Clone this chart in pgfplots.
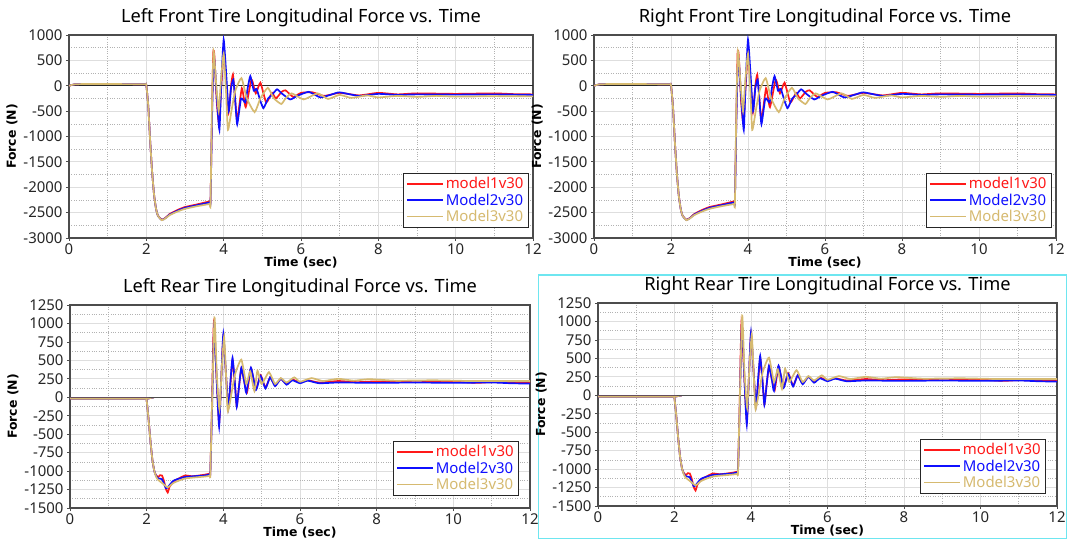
\documentclass[border=0pt]{standalone}
\usepackage{pgfplots}
\pgfplotsset{compat=1.18}
\usepackage{pgfplotstable}
\usepackage{fontspec}
\setmainfont{Noto Sans}
\newfontfamily\lblfont{DejaVu Sans}
\definecolor{mred}{RGB}{255,25,25}
\definecolor{mblue}{RGB}{15,15,255}
\definecolor{mtan}{RGB}{214,186,112}
\definecolor{cyanb}{RGB}{110,230,240}

\pgfplotstableread{
t v
0 0
0.15 28
0.5 35
1.5 32
1.9 30
1.98 28
2.0 15
2.05 -400
2.1 -1100
2.15 -1700
2.2 -2150
2.25 -2420
2.3 -2560
2.4 -2640
2.5 -2600
2.6 -2530
2.8 -2450
3.0 -2390
3.3 -2340
3.6 -2285
3.64 -2275
3.66 -2260
3.70 -500
3.73 650
3.76 600
3.82 -300
3.88 -750
3.94 0
4.0 650
4.06 100
4.13 -520
4.19 0
4.24 220
4.29 -200
4.35 -680
4.47 -50
4.57 -420
4.72 120
4.83 -150
4.95 60
5.1 -330
5.25 -140
5.35 -250
5.5 -120
5.6 -90
5.8 -220
6.0 -140
6.3 -130
6.6 -200
7.0 -140
7.5 -190
8.0 -140
8.5 -170
9.0 -150
10.0 -160
11.0 -150
11.5 -165
12.0 -170
}\FrontRed

\pgfplotstableread{
t v
0 0
0.15 28
0.5 35
1.5 32
1.9 30
1.98 28
2.0 15
2.05 -400
2.1 -1100
2.15 -1700
2.2 -2150
2.25 -2420
2.3 -2560
2.4 -2645
2.5 -2605
2.6 -2540
2.8 -2465
3.0 -2405
3.3 -2355
3.6 -2305
3.64 -2300
3.66 -2290
3.70 -600
3.73 300
3.76 520
3.82 -200
3.89 -870
3.94 100
4.0 910
4.06 300
4.13 -500
4.19 -50
4.25 120
4.3 -300
4.35 -760
4.45 -250
4.56 -330
4.62 -50
4.69 190
4.78 -100
4.85 -60
4.95 -300
5.03 -440
5.15 -250
5.25 -180
5.38 -70
5.5 -150
5.72 -270
5.9 -200
6.2 -120
6.5 -230
6.8 -170
7.0 -130
7.5 -200
8.0 -160
8.5 -180
9.0 -170
10 -175
11 -170
12 -180
}\FrontBlue

\pgfplotstableread{
t v
0 0
0.15 28
0.5 35
1.5 32
1.9 30
1.98 28
2.0 15
2.05 -400
2.1 -1100
2.15 -1700
2.2 -2150
2.25 -2420
2.3 -2560
2.4 -2650
2.5 -2610
2.6 -2550
2.8 -2480
3.0 -2425
3.3 -2375
3.6 -2335
3.64 -2330
3.66 -2320
3.70 -300
3.74 680
3.80 100
3.87 -500
3.93 100
4.0 630
4.06 -100
4.11 -870
4.2 -500
4.3 -100
4.46 150
4.6 -250
4.8 -520
4.95 -250
5.14 -40
5.3 -250
5.49 -360
5.6 -250
5.76 -150
6.07 -270
6.43 -150
6.7 -260
7.0 -180
7.3 -240
7.7 -190
8.0 -230
8.5 -200
9.0 -220
9.5 -200
10 -215
11 -205
12 -210
}\FrontTan

\pgfplotstableread{
t v
0 -10
0.1 -20
1.9 -20
1.98 -22
2.0 -40
2.05 -300
2.1 -600
2.15 -850
2.2 -1000
2.25 -1060
2.3 -1080
2.35 -1055
2.4 -1060
2.45 -1130
2.5 -1240
2.55 -1290
2.6 -1210
2.7 -1140
2.8 -1110
3.0 -1060
3.2 -1070
3.5 -1050
3.64 -1035
3.66 -1020
3.7 -200
3.75 990
3.82 300
3.89 -350
3.95 300
4.0 820
4.07 300
4.13 -150
4.19 200
4.24 500
4.3 200
4.35 -120
4.41 150
4.47 390
4.55 200
4.62 70
4.72 390
4.85 110
4.97 300
5.1 130
5.22 270
5.35 160
5.5 250
5.65 180
5.8 240
6.0 200
6.2 230
6.5 200
7 220
7.5 205
8 215
9 205
10 210
10.6 195
11 205
12 200
}\RearRed

\pgfplotstableread{
t v
0 -10
0.1 -20
1.9 -20
1.98 -22
2.0 -40
2.05 -300
2.1 -600
2.15 -850
2.2 -1000
2.25 -1070
2.3 -1100
2.4 -1110
2.5 -1230
2.55 -1220
2.7 -1130
3.0 -1080
3.5 -1060
3.64 -1045
3.66 -1030
3.7 -300
3.76 950
3.83 200
3.89 -400
3.95 300
4.0 855
4.07 300
4.13 -150
4.19 250
4.24 535
4.3 200
4.35 -130
4.41 150
4.47 400
4.55 200
4.6 60
4.72 400
4.85 100
4.97 290
5.1 120
5.22 270
5.35 150
5.5 250
5.65 170
5.8 230
6.0 190
6.2 225
6.5 190
7 200
8 195
9 200
10 195
11 200
11.5 190
12 185
}\RearBlue

\pgfplotstableread{
t v
0 -10
0.1 -20
1.9 -20
1.98 -22
2.0 -40
2.05 -300
2.1 -600
2.15 -850
2.2 -1000
2.25 -1080
2.3 -1120
2.4 -1160
2.55 -1220
2.7 -1160
3.0 -1100
3.5 -1075
3.64 -1065
3.66 -1050
3.7 -200
3.77 1080
3.83 300
3.9 -170
3.96 400
4.02 820
4.07 300
4.12 -190
4.3 300
4.47 510
4.6 180
4.7 350
4.81 85
4.89 360
5.0 180
5.19 340
5.35 180
5.5 260
5.65 200
5.85 270
6.0 210
6.3 260
6.6 220
7.0 250
7.4 225
7.8 245
8.5 225
9.5 230
10.5 220
12 220
}\RearTan

\pgfplotsset{
  tireax/.style={
    scale only axis, anchor=south west,
    xmin=0, xmax=12, xtick={0,2,...,12}, minor x tick num=1,
    grid=both,
    major grid style={black!13, line width=1pt},
    minor grid style={black!30, dotted, line width=0.6pt},
    axis line style={black!70, line width=1.1pt},
    tick align=outside, major tick length=3bp, minor tick length=0pt,
    tick style={black!70, line width=0.8pt},
    xtick pos=bottom, ytick pos=left,
    /pgf/number format/assume math mode=true,
    /pgf/number format/1000 sep={},
    ticklabel style={font=\fontsize{15}{15}\selectfont, text=black!85},
    xticklabel style={yshift=1bp},
    title style={font=\fontsize{18.3}{19}\selectfont, yshift=-1bp},
    xlabel style={font=\lblfont\bfseries\fontsize{12.5}{13}\selectfont, yshift=4bp},
    ylabel style={font=\lblfont\bfseries\fontsize{12.5}{13}\selectfont, yshift=-1bp},
    xlabel={Time (sec)}, ylabel={Force (N)},
    legend cell align=left,
    legend style={draw=black!85, line width=0.8pt, font=\fontsize{15}{17}\selectfont,
      row sep=-0.5bp, inner sep=2.5bp},
    legend image code/.code={\draw[#1, line width=1.7pt] (0bp,0bp) -- (36bp,0bp);},
  },
  frontax/.style={tireax, ymin=-3000, ymax=1000, ytick={-3000,-2500,...,1000}, minor y tick num=1,
    legend style={at={(0.99,0.05)}, anchor=south east}},
  rearax/.style={tireax, ymin=-1500, ymax=1250, ytick={-1500,-1250,...,1250}, minor y tick num=1,
    legend style={at={(0.975,0.06)}, anchor=south east}},
  sr/.style={mred, line width=1.7pt, smooth, tension=0.3},
  sb/.style={mblue, line width=1.7pt, smooth, tension=0.3},
  st/.style={mtan, line width=1.7pt, smooth, tension=0.3},
}

\begin{document}
\begin{tikzpicture}
\useasboundingbox (0,0) rectangle (1070bp,539bp);
\draw[cyanb, line width=1.2pt] (538.5bp,0bp) rectangle (1066.5bp,264bp);

\begin{axis}[frontax, at={(69bp,301bp)}, width=464bp, height=203bp,
  title={Left Front Tire Longitudinal Force vs. Time}]
\addplot[black!85, line width=1.2pt, forget plot] coordinates {(0,0) (12,0)};
\addplot[sr] table[x=t,y=v] {\FrontRed};
\addplot[sb] table[x=t,y=v] {\FrontBlue};
\addplot[st] table[x=t,y=v] {\FrontTan};
\legend{\textcolor{mred}{model1v30},\textcolor{mblue}{Model2v30},\textcolor{mtan}{Model3v30}}
\end{axis}

\begin{axis}[frontax, at={(594bp,301bp)}, width=462bp, height=203bp,
  title={Right Front Tire Longitudinal Force vs. Time}]
\addplot[black!85, line width=1.2pt, forget plot] coordinates {(0,0) (12,0)};
\addplot[sr] table[x=t,y=v] {\FrontRed};
\addplot[sb] table[x=t,y=v] {\FrontBlue};
\addplot[st] table[x=t,y=v] {\FrontTan};
\legend{\textcolor{mred}{model1v30},\textcolor{mblue}{Model2v30},\textcolor{mtan}{Model3v30}}
\end{axis}

\begin{axis}[rearax, at={(70bp,31bp)}, width=460bp, height=203bp,
  title={Left Rear Tire Longitudinal Force vs. Time}]
\addplot[black!70, line width=1.4pt, forget plot] coordinates {(0,0) (12,0)};
\addplot[sr] table[x=t,y=v] {\RearRed};
\addplot[sb] table[x=t,y=v] {\RearBlue};
\addplot[st] table[x=t,y=v] {\RearTan};
\legend{\textcolor{mred}{model1v30},\textcolor{mblue}{Model2v30},\textcolor{mtan}{Model3v30}}
\end{axis}

\begin{axis}[rearax, at={(598bp,33bp)}, width=459bp, height=203bp,
  title={Right Rear Tire Longitudinal Force vs. Time}]
\addplot[black!70, line width=1.4pt, forget plot] coordinates {(0,0) (12,0)};
\addplot[sr] table[x=t,y=v] {\RearRed};
\addplot[sb] table[x=t,y=v] {\RearBlue};
\addplot[st] table[x=t,y=v] {\RearTan};
\legend{\textcolor{mred}{model1v30},\textcolor{mblue}{Model2v30},\textcolor{mtan}{Model3v30}}
\end{axis}
\end{tikzpicture}
\end{document}
